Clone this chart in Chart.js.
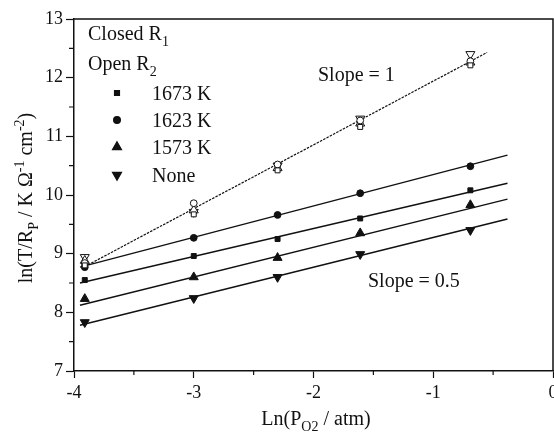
<!DOCTYPE html>
<html>
<head>
<meta charset="utf-8">
<script src="https://cdn.jsdelivr.net/npm/chart.js@4/dist/chart.umd.min.js"></script>
<style>
  html, body { margin: 0; padding: 0; background: #fff; overflow: hidden; }
  #wrap { width: 554px; height: 438px; position: relative; }
  canvas { display: block; }
</style>
</head>
<body>
<div id="wrap"><canvas id="chart" width="554" height="438"></canvas></div>
<script>
// ln(pO2) values measured
let lnPO2 = [-3.91, -3.00, -2.30, -1.61, -0.69];

// closed R1 (open symbols, slope = 1)
let r1_1673 = [8.80, 9.67, 10.42, 11.16, 12.21];
let r1_1623 = [8.84, 9.86, 10.52, 11.27, 12.28];
let r1_1573 = [8.88, 9.74, 10.46, 11.22, 12.26];
let r1_none = [8.94, 9.71, 10.50, 11.30, 12.40];

// open R2 (filled symbols, slope = 0.5)
let r2_1673 = [8.55, 8.96, 9.25, 9.60, 10.08];
let r2_1623 = [8.77, 9.27, 9.66, 10.03, 10.49];
let r2_1573 = [8.23, 8.60, 8.93, 9.35, 9.83];
let r2_none = [7.83, 8.24, 8.60, 8.99, 9.40];

// fitted lines (end points)
let fitR1X = [-3.91, -0.55];
let fitR1Y = [8.78, 12.43];
let fitR2X = [-3.95, -0.38];
let fit1673Y = [8.50, 10.20];
let fit1623Y = [8.77, 10.68];
let fit1573Y = [8.12, 9.93];
let fitNoneY = [7.78, 9.59];

let seriesNames = ["1673 K", "1623 K", "1573 K", "None"];
let xTicks = [-4, -3, -2, -1, 0];
let yTicks = [7, 8, 9, 10, 11, 12, 13];

let serif = "'Liberation Serif', 'DejaVu Serif', serif";
let ink = "#111";

let styles = [
    { pointStyle: "rect", radius: 3.5, rotation: 0 },
    { pointStyle: "circle", radius: 3.4, rotation: 0 },
    { pointStyle: "triangle", radius: 5.2, rotation: 0 },
    { pointStyle: "triangle", radius: 5.2, rotation: 180 }
];

function toPoints(xs, ys) {
    return xs.map((x, i) => ({ x: x, y: ys[i] }));
}

function lineSet(xs, ys, dash, width) {
    return {
        data: toPoints(xs, ys),
        showLine: true,
        pointRadius: 0,
        borderColor: ink,
        borderWidth: width,
        borderDash: dash,
        order: 3
    };
}

function markerSet(ys, idx, filled) {
    return {
        data: toPoints(lnPO2, ys),
        showLine: false,
        pointStyle: styles[idx].pointStyle,
        pointRadius: styles[idx].radius,
        pointRotation: styles[idx].rotation,
        backgroundColor: filled ? ink : "#fff",
        borderColor: ink,
        borderWidth: 1,
        order: filled ? 2 : 1
    };
}

// draw text pieces with sub/superscripts
function richText(ctx, parts, x, y, size, align) {
    let small = Math.round(size * 0.68);
    let widths = parts.map(p => {
        ctx.font = (p.s ? small : size) + "px " + serif;
        return ctx.measureText(p.t).width;
    });
    let total = widths.reduce((a, b) => a + b, 0);
    let cx = align === "center" ? x - total / 2 : x;
    ctx.textAlign = "left";
    ctx.textBaseline = "alphabetic";
    parts.forEach((p, i) => {
        let dy = 0;
        if (p.s === "sub") dy = size * 0.3;
        if (p.s === "sup") dy = -size * 0.38;
        ctx.font = (p.s ? small : size) + "px " + serif;
        ctx.fillText(p.t, cx, y + dy);
        cx += widths[i];
    });
}

let decorPlugin = {
    id: "decor",
    afterDraw(chart) {
        let ctx = chart.ctx;
        let area = chart.chartArea;
        let xs = chart.scales.x, ys = chart.scales.y;
        ctx.save();
        ctx.strokeStyle = ink;
        ctx.fillStyle = ink;

        // frame top / right
        ctx.lineWidth = 1.5;
        ctx.beginPath();
        ctx.moveTo(area.left, area.top);
        ctx.lineTo(area.right, area.top);
        ctx.lineTo(area.right, area.bottom);
        ctx.stroke();

        // minor ticks
        ctx.lineWidth = 1.2;
        ctx.beginPath();
        for (let i = 0; i < xTicks.length - 1; i++) {
            let px = xs.getPixelForValue(xTicks[i] + 0.5);
            ctx.moveTo(px, area.bottom);
            ctx.lineTo(px, area.bottom + 4);
        }
        for (let i = 0; i < yTicks.length - 1; i++) {
            let py = ys.getPixelForValue(yTicks[i] + 0.5);
            ctx.moveTo(area.left, py);
            ctx.lineTo(area.left - 5, py);
        }
        ctx.stroke();

        // tick labels
        ctx.font = "18px " + serif;
        ctx.textAlign = "right";
        ctx.textBaseline = "middle";
        yTicks.forEach(v => ctx.fillText(String(v), area.left - 11, ys.getPixelForValue(v)));
        ctx.textAlign = "center";
        xTicks.forEach(v => ctx.fillText(String(v), xs.getPixelForValue(v), area.bottom + 22));

        // axis titles
        richText(ctx, [{ t: "Ln(P" }, { t: "O2", s: "sub" }, { t: " / atm)" }], 316, 425, 20, "center");
        ctx.save();
        ctx.translate(32, (area.top + area.bottom) / 2 + 3);
        ctx.rotate(-Math.PI / 2);
        richText(ctx, [{ t: "ln(T/R" }, { t: "P", s: "sub" }, { t: " / K \u03A9" }, { t: "-1", s: "sup" },
            { t: " cm" }, { t: "-2", s: "sup" }, { t: ")" }], 0, 0, 20, "center");
        ctx.restore();

        // legend
        richText(ctx, [{ t: "Closed R" }, { t: "1", s: "sub" }], 88, 40, 20, "left");
        richText(ctx, [{ t: "Open R" }, { t: "2", s: "sub" }], 88, 70, 20, "left");
        let rowsY = [93, 120, 147, 175];
        seriesNames.forEach((name, i) => {
            Chart.helpers.drawPoint(ctx, {
                pointStyle: styles[i].pointStyle,
                radius: styles[i].radius,
                rotation: styles[i].rotation,
                borderWidth: 1
            }, 117, rowsY[i]);
            ctx.fillStyle = ink;
            richText(ctx, [{ t: name }], 152, rowsY[i] + 7, 20, "left");
        });

        // slope notes
        richText(ctx, [{ t: "Slope = 1" }], 318, 81, 20, "left");
        richText(ctx, [{ t: "Slope = 0.5" }], 368, 287, 20, "left");
        ctx.restore();
    }
};

let datasets = [
    lineSet(fitR1X, fitR1Y, [2.5, 1.2], 1.2),
    lineSet(fitR2X, fit1673Y, [], 1.4),
    lineSet(fitR2X, fit1623Y, [], 1.4),
    lineSet(fitR2X, fit1573Y, [], 1.4),
    lineSet(fitR2X, fitNoneY, [], 1.4),
    markerSet(r1_1673, 0, false),
    markerSet(r1_1623, 1, false),
    markerSet(r1_1573, 2, false),
    markerSet(r1_none, 3, false),
    markerSet(r2_1673, 0, true),
    markerSet(r2_1623, 1, true),
    markerSet(r2_1573, 2, true),
    markerSet(r2_none, 3, true)
];

new Chart(document.getElementById("chart"), {
    type: "scatter",
    data: { datasets: datasets },
    options: {
        responsive: false,
        animation: false,
        layout: { autoPadding: false, padding: { top: 19, right: 1, left: 0, bottom: 0 } },
        plugins: { legend: { display: false }, tooltip: { enabled: false } },
        scales: {
            x: {
                type: "linear",
                min: -4,
                max: 0,
                ticks: { display: false, stepSize: 0.5 },
                grid: {
                    drawOnChartArea: false,
                    drawTicks: true,
                    tickLength: 7,
                    tickWidth: 1.2,
                    tickColor: c => Number.isInteger(c.tick.value) ? ink : "rgba(0,0,0,0)"
                },
                border: { display: true, color: ink, width: 1.5 },
                afterFit: s => { s.height = 67; }
            },
            y: {
                type: "linear",
                min: 7,
                max: 13,
                ticks: { display: false, stepSize: 0.5 },
                grid: {
                    drawOnChartArea: false,
                    drawTicks: true,
                    tickLength: 8,
                    tickWidth: 1.2,
                    tickColor: c => Number.isInteger(c.tick.value) ? ink : "rgba(0,0,0,0)"
                },
                border: { display: true, color: ink, width: 1.5 },
                afterFit: s => { s.width = 74; }
            }
        }
    },
    plugins: [decorPlugin]
});
</script>
</body>
</html>
